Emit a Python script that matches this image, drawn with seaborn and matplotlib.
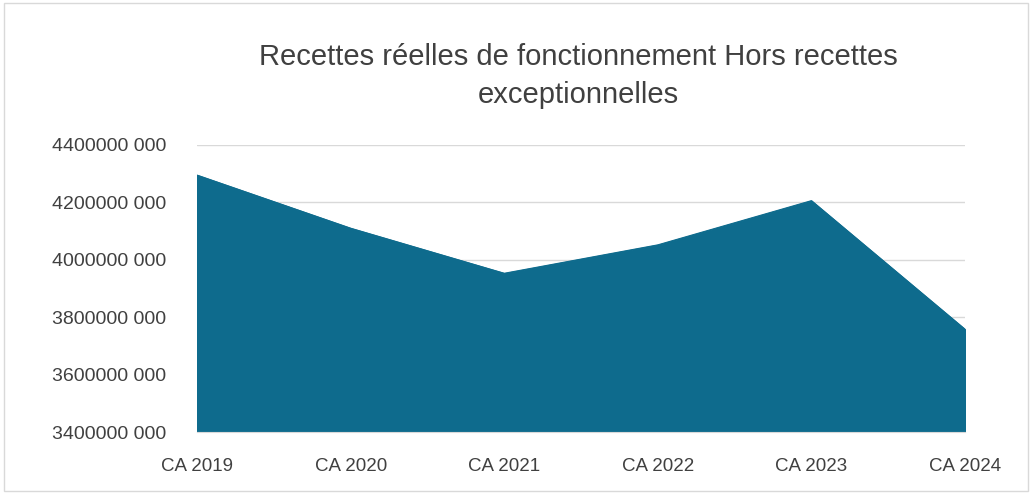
import pandas as pd
import matplotlib
matplotlib.use("Agg")
import matplotlib.pyplot as plt
import seaborn as sns

# data
years = ["CA 2019", "CA 2020", "CA 2021", "CA 2022", "CA 2023", "CA 2024"]
recettes = [4295000, 4110000, 3953000, 4052000, 4206000, 3758000]
y_ticks = [3400000, 3600000, 3800000, 4000000, 4200000, 4400000]
y_tick_labels = ["3400000 000", "3600000 000", "3800000 000",
                 "4000000 000", "4200000 000", "4400000 000"]

df = pd.DataFrame({"annee": range(len(years)), "recettes": recettes})

sns.set_style("white")
plt.rcParams["font.family"] = ["Liberation Sans", "DejaVu Sans"]

fill_color = "#0E6B8D"
text_color = "#404040"

fig = plt.figure(figsize=(10.32, 4.94), dpi=100)
ax = fig.add_axes([0.191, 0.1255, 0.744, 0.581])

sns.lineplot(data=df, x="annee", y="recettes", color=fill_color, linewidth=0.8, ax=ax)
ax.fill_between(df["annee"], df["recettes"], y_ticks[0], color=fill_color, zorder=2)

ax.set_ylim(y_ticks[0], y_ticks[-1])
ax.set_xlim(0, len(years) - 1)
ax.set_yticks(y_ticks)
ax.set_yticklabels(y_tick_labels)
ax.set_xticks(range(len(years)))
ax.set_xticklabels(years)
ax.set_xlabel("")
ax.set_ylabel("")

ax.grid(axis="y", color="#d9d9d9", linewidth=1)
ax.set_axisbelow(True)
for side in ["top", "right", "left"]:
    ax.spines[side].set_visible(False)
ax.spines["bottom"].set_color("#d9d9d9")

ax.tick_params(axis="y", length=0, pad=22, labelsize=14, labelcolor=text_color)
ax.tick_params(axis="x", length=5, color="#d9d9d9", pad=14, labelsize=13.5, labelcolor=text_color)

fig.text(0.56, 0.885, "Recettes réelles de fonctionnement Hors recettes",
         ha="center", va="center", fontsize=21, color=text_color)
fig.text(0.56, 0.808, "exceptionnelles",
         ha="center", va="center", fontsize=21, color=text_color)

# light frame around the chart area
fig.patches.append(plt.Rectangle((0.004, 0.006), 0.992, 0.988, transform=fig.transFigure,
                                 fill=False, edgecolor="#d9d9d9", linewidth=1))

fig.savefig("out.png", dpi=100)
